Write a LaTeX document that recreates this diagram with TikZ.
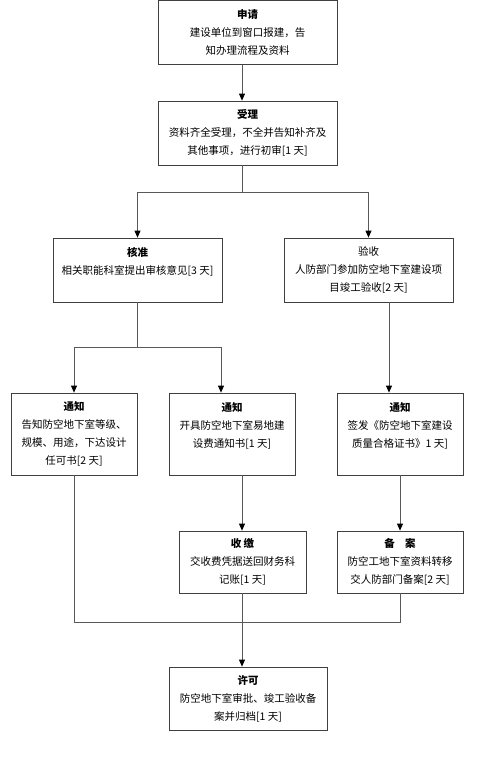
\documentclass[tikz,border=0pt]{standalone}
\usepackage{fontspec}
\setmainfont{Noto Sans CJK SC}
\usetikzlibrary{arrows.meta,calc}

\begin{document}
\begin{tikzpicture}[x=1pt, y=-1pt, >={Triangle[length=7pt,width=6pt,color=black]}]
\tikzstyle{box}=[draw=black!75,line width=0.8pt,fill=white,text=black,align=center,inner sep=0pt,font=\fontsize{10.5}{18}\selectfont]
\tikzstyle{link}=[draw=black!65,line width=0.8pt]

\useasboundingbox (0,0) rectangle (484,768);

\node[box,minimum width=179pt,minimum height=64pt] (apply)   at (247.5,32.5) {\textbf{申请}\\建设单位到窗口报建，告\\知办理流程及资料};
\node[box,minimum width=179pt,minimum height=64pt] (accept)  at (247.5,133)  {\textbf{受理}\\资料齐全受理，不全并告知补齐及\\其他事项，进行初审[1 天]};
\node[box,minimum width=169pt,minimum height=64pt] (check)   at (137.5,270)  {\textbf{核准}\\相关职能科室提出审核意见[3 天]\\\mbox{}};
\node[box,minimum width=169pt,minimum height=64pt] (inspect) at (368.5,270)  {验收\\人防部门参加防空地下室建设项\\目竣工验收[2 天]};
\node[box,minimum width=126pt,minimum height=82pt] (notifyA) at (74,434)     {\textbf{通知}\\告知防空地下室等级、\\规模、用途，下达设计\\任可书[2 天]};
\node[box,minimum width=126pt,minimum height=82pt] (notifyB) at (232,434)    {\textbf{通知}\\开具防空地下室易地建\\设费通知书[1 天]\\\mbox{}};
\node[box,minimum width=126pt,minimum height=82pt] (notifyC) at (400,434)    {\textbf{通知}\\签发《防空地下室建设\\质量合格证书》1 天]\\\mbox{}};
\node[box,minimum width=127pt,minimum height=62pt] (fee)     at (242.5,562)  {\textbf{收\ 缴}\\交收费凭据送回财务科\\记账[1 天]};
\node[box,minimum width=126pt,minimum height=62pt] (record)  at (400,562)    {\textbf{备\hspace{1em}案}\\防空工地下室资料转移\\交人防部门备案[2 天]};
\node[box,minimum width=158pt,minimum height=63pt] (permit)  at (248,698.5)  {\textbf{许可}\\防空地下室审批、竣工验收备\\案并归档[1 天]};

\coordinate (trunk) at (242,0);
\coordinate (colB)  at (221,0);
\coordinate (colD)  at (389,0);
\coordinate (fork1) at (242,192);
\coordinate (fork2) at (137,347);
\coordinate (join)  at (242,622);

\draw[link,->] (apply.south -| trunk) -- (accept.north -| trunk);

\draw[link]    (accept.south -| fork1) -- (fork1);
\draw[link,->] (fork1) -| (check.north);
\draw[link,->] (fork1) -| (inspect.north);

\draw[link]    (check.south -| fork2) -- (fork2);
\draw[link,->] (fork2) -| (notifyA.north);
\draw[link,->] (fork2) -| (notifyB.north -| colB);

\draw[link,->] (inspect.south -| colD) -- (notifyC.north -| colD);

\draw[link,->] (notifyB.south -| trunk) -- (fee.north -| trunk);
\draw[link,->] (notifyC.south) -- (record.north);

\draw[link]    (notifyA.south) |- (join);
\draw[link]    (record.south) |- (join);
\draw[link,->] (fee.south -| trunk) -- (permit.north -| trunk);

\end{tikzpicture}
\end{document}
